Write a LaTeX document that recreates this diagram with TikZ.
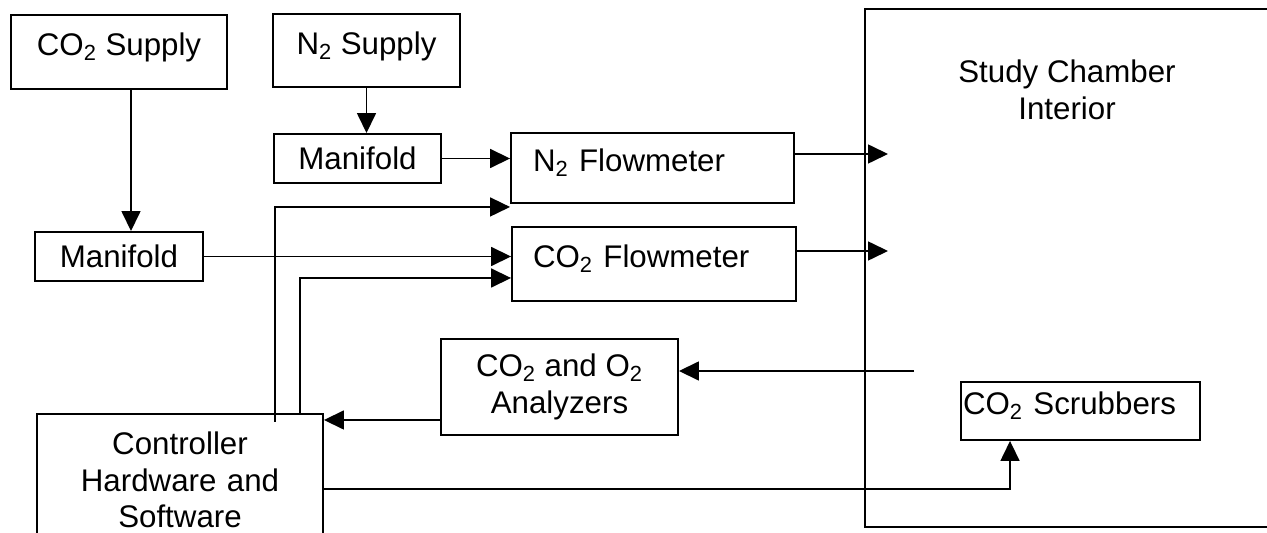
\documentclass[tikz,border=0pt]{standalone}
\usepackage{fontspec}
\setmainfont{Liberation Sans}
\usetikzlibrary{arrows.meta,positioning}

\tikzset{	Box/.style={draw,line width=1.1pt,inner sep=0pt,align=center},
			HighText/.style={text depth=0.3cm},
			Flow/.style={->,line width=0.9pt}
				}

\begin{document}
\begin{tikzpicture}[>={Triangle[length=0.4cm,width=0.38cm]}, x=0.02cm, y=-0.02cm,
	font=\fontsize{17.8}{21}\selectfont]

	\useasboundingbox (0,0) rectangle (1267,533);
	\clip (0,0) rectangle (1267,533);

	% versorgung und manifolds
	\node[Box,HighText,minimum width=4.32cm,minimum height=1.48cm] (co2sup) at (119,52) {CO\textsubscript{2} Supply};
	\node[Box,HighText,minimum width=3.74cm,minimum height=1.46cm] (n2sup) at (366.5,50.5) {N\textsubscript{2} Supply};
	\node[Box,minimum width=3.34cm,minimum height=0.98cm] (n2man) at (357.5,158.5) {Manifold};
	\node[Box,minimum width=3.36cm,minimum height=0.98cm] (co2man) at (119,256.5) {Manifold};

	% flowmeter, analyzer, controller
	\node[Box,HighText,align=left,text width=4.78cm,inner xsep=0.44cm,minimum height=1.4cm] (n2flow) at (652.5,168) {N\textsubscript{2} Flowmeter};
	\node[Box,HighText,align=left,text width=4.84cm,inner xsep=0.42cm,minimum height=1.48cm] (co2flow) at (654,264) {CO\textsubscript{2} Flowmeter};
	\node[Box,minimum width=4.74cm,minimum height=1.92cm] (an) at (559.5,387) {CO\textsubscript{2} and O\textsubscript{2}\\Analyzers};
	\node[Box,anchor=north,text width=5.72cm,inner ysep=0.35cm] (ctrl) at (180,413) {Controller\\Hardware and\\Software};

	% kammer
	\node[Box,minimum width=8.08cm,minimum height=10.36cm] (chamber) at (1067,268) {};
	\node[below=1.03cm of chamber.north,inner sep=0pt,align=center] (chambername) {Study Chamber\\Interior};
	\node[Box,HighText,align=left,text width=4.70cm,inner xsep=0.04cm,minimum height=1.16cm] (scrub) at (1080.5,411) {CO\textsubscript{2} Scrubbers};

	\coordinate (n2in) at (888,154);
	\coordinate (co2in) at (888,251);
	\coordinate (sample) at (914,371);
	\coordinate (scrubin) at ([xshift=-1.41cm]scrub.south);

	% gasfluss
	\draw[Flow] ([xshift=0.24cm]co2sup.south) -- ([xshift=0.24cm]co2man.north);
	\draw[Flow] (n2sup.south) -- (n2sup.south |- n2man.north);
	\draw[Flow] (n2man.east) -- (n2man.east -| n2flow.west);
	\draw[Flow] (co2man.east) -- (co2man.east -| co2flow.west);
	\draw[Flow] (n2flow.east |- n2in) -- (n2in);
	\draw[Flow] (co2flow.east |- co2in) -- (co2in);

	% signale
	\draw[Flow] ([xshift=-0.98cm,yshift=-0.18cm]ctrl.north east) |- ([yshift=-0.06cm]n2flow.south west);
	\draw[Flow] ([xshift=-0.48cm]ctrl.north east) |- ([yshift=-0.28cm]co2flow.west);
	\draw[Flow] (sample) -- (sample -| an.east);
	\draw[Flow] ([yshift=-0.66cm]an.west) -- ([yshift=-0.66cm]an.west -| ctrl.east);
	\draw[Flow] ([yshift=-1.52cm]ctrl.north east) -| (scrubin);
\end{tikzpicture}
\end{document}
